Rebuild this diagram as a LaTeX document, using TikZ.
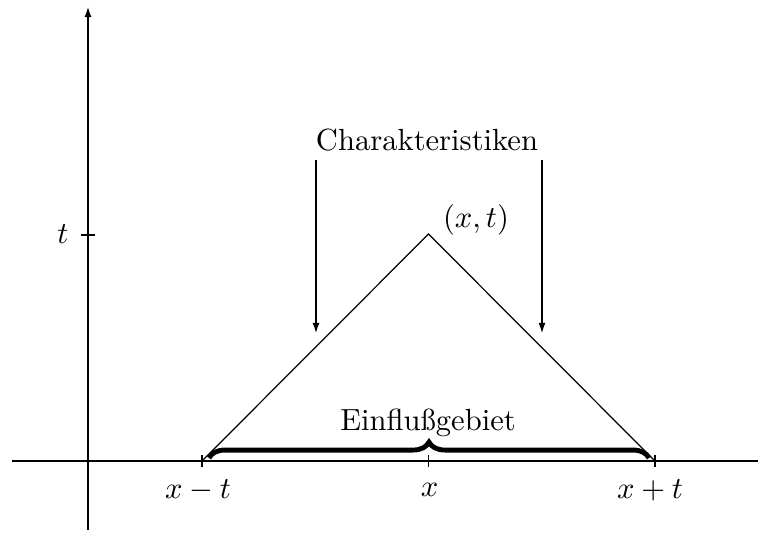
\documentclass[tikz,border=0pt]{standalone}
\usetikzlibrary{arrows.meta,decorations.pathreplacing}
\begin{document}
\begin{tikzpicture}[x=0.327pt,y=-0.327pt,
  thinline/.style={line width=0.4pt},
  tip/.style={-{Latex[length=3.3pt,width=2.3pt]}},
  tick/.style={line width=0.4pt},
  lbl/.style={inner sep=0pt}]
\useasboundingbox (0,0) rectangle (758,533);
% axes
\coordinate (yb) at (88,530);
\coordinate (yt) at (88,7);
\coordinate (xl) at (12,461);
\coordinate (xr) at (758,461);
\draw[thinline,tip] (yb) -- (yt);
\draw[thinline] (xl) -- (xr);
% points
\coordinate (A) at (202,461);
\coordinate (M) at (428.5,461);
\coordinate (B) at (655,461);
\coordinate (P) at (428.5,234);
\coordinate (T) at (88,235);
% ticks
\foreach \c in {A,M,B} \draw[tick] ([yshift=6*0.327pt]\c) -- ([yshift=-6*0.327pt]\c);
\draw[tick] ([xshift=-7*0.327pt]T) -- ([xshift=7*0.327pt]T);
% triangle
\draw[thinline] (A) -- (P) -- (B);
% labels
\node[lbl] (lt) at (63,234) {$t$};
\node[lbl] (lxmt) at (198,490) {$x-t$};
\node[lbl] (lx) at (429.5,490) {$x$};
\node[lbl] (lxpt) at (650,490) {$x+t$};
\node[lbl] (lP) at (476,220) {$(x,t)$};
\node[lbl] (lch) at (427,140) {Charakteristiken};
\node[lbl] (lein) at (428,423) {Einflußgebiet};
% arrows
\coordinate (a1s) at (316,160);
\coordinate (a1e) at (316,333);
\coordinate (a2s) at (542,160);
\coordinate (a2e) at (542,333);
\draw[thinline,tip] (a1s) -- (a1e);
\draw[thinline,tip] (a2s) -- (a2e);
% brace
\coordinate (b1) at (209,458);
\coordinate (b2) at (649,458);
\draw[line width=1.6pt,decorate,decoration={brace,amplitude=5.2pt}] (b1) -- (b2);
\end{tikzpicture}
\end{document}
